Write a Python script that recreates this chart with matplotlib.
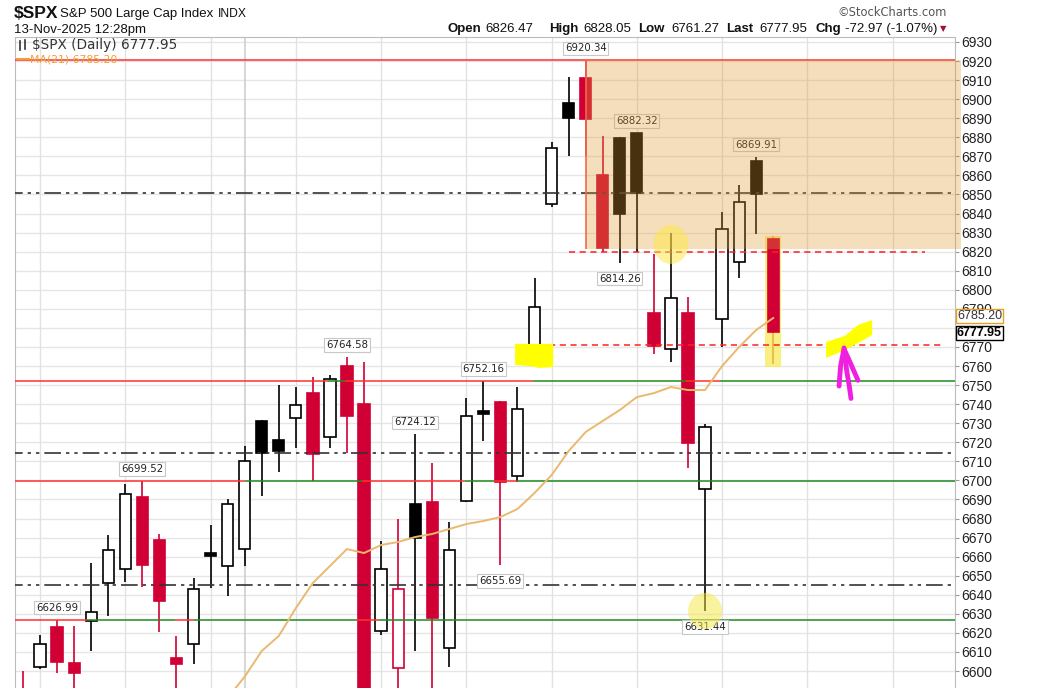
import numpy as np
import pandas as pd
import matplotlib
matplotlib.use("Agg")
import matplotlib.pyplot as plt
from matplotlib.patches import Rectangle, Ellipse, Polygon
from matplotlib.lines import Line2D

W, H = 1052, 688

# daily candles 12-Sep-2025 .. 13-Nov-2025
dates = pd.bdate_range("2025-09-12", "2025-11-13").strftime("%d-%b").tolist()
opens = [6590, 6602, 6623, 6604, 6626, 6646, 6653.4, 6691.5, 6668.7, 6607, 6614.2, 6661.5, 6655,
         6664, 6731, 6721.2, 6732.5, 6745.7, 6723, 6760, 6740, 6621, 6601.7, 6687.6, 6688.5, 6612,
         6689, 6736.5, 6741, 6702.5, 6771, 6845, 6897.8, 6911, 6860, 6879.5, 6882, 6788, 6769,
         6787.7, 6695.3, 6784.7, 6814.7, 6867.6, 6826.47]
highs = [6600, 6619, 6626.99, 6623.6, 6656.5, 6671.3, 6698, 6699.52, 6672, 6618.4, 6648.6, 6676.4, 6690,
         6718, 6731.5, 6750, 6749, 6754, 6755.3, 6764.58, 6762, 6668, 6679.7, 6724.12, 6709, 6678,
         6743.4, 6752.16, 6741.5, 6749, 6806.3, 6877.4, 6911.5, 6920.34, 6880.7, 6880, 6882.32, 6819,
         6829.6, 6796, 6729.6, 6841, 6855, 6869.91, 6828.05]
lows = [6575, 6601, 6599, 6560, 6610.7, 6629, 6646.5, 6644, 6620.6, 6569, 6603.5, 6643.7, 6639.5,
        6655, 6692, 6704.5, 6717, 6699.5, 6717, 6714.5, 6550, 6619, 6552, 6610.7, 6576, 6602,
        6688.5, 6720.8, 6655.69, 6699, 6770.5, 6843.6, 6870, 6870, 6820, 6814.26, 6819.7, 6766.3,
        6762.3, 6706.3, 6631.44, 6770, 6806, 6829.1, 6761.27]
closes = [6585, 6614, 6605, 6599, 6631, 6663.5, 6693, 6655.6, 6637, 6603.5, 6643, 6660.5, 6687.6,
          6710, 6714.5, 6715.5, 6739.5, 6714, 6753, 6734, 6552, 6653.5, 6643, 6670, 6627.6, 6663.5,
          6734, 6735, 6699, 6737.4, 6791, 6874.5, 6890, 6889.5, 6822, 6839.6, 6851, 6770.7, 6795.8,
          6719.5, 6728.2, 6831.7, 6846.2, 6850.3, 6777.95]
prev_close = 6587.0
ma21 = [np.nan] * 12 + [6586, 6597, 6610.5, 6618.4, 6633, 6646.2, 6655.1, 6664, 6661.9, 6666.1,
                        6667.7, 6670.3, 6671.9, 6674.5, 6677.1, 6678.7, 6680.8, 6685, 6693.4, 6702.8,
                        6715.4, 6725.4, 6731.2, 6736.9, 6743.7, 6745.8, 6749, 6747.4, 6747.4, 6760,
                        6770, 6778.9, 6785.2]

# labelled highs / lows
high_labels = [(2, 6626.99), (7, 6699.52), (19, 6764.58), (23, 6724.12), (27, 6752.16),
               (33, 6920.34), (36, 6882.32), (43, 6869.91)]
low_labels = [(28, 6655.69), (35, 6814.26), (40, 6631.44)]

yticks = list(range(6600, 6931, 10))

RED = "#D10034"
LRED = "#FF3030"
GREEN = "#1E8C1E"
SANS = "Liberation Sans"

fig = plt.figure(figsize=(W / 100, H / 100), dpi=100)
ax = fig.add_axes([15 / W, 0, 940 / W, 651 / H])
ax.set_xlim(-0.47, 54.66)
ax.set_ylim(6591.1, 6932.6)

n = len(dates)
x = np.arange(n)

# grid
for lv in range(6590, 6931, 10):
    ax.axhline(lv, color="#E6E6E6", lw=1, zorder=0)
days = pd.bdate_range("2025-09-12", periods=60)
for i, d in enumerate(days):
    if d.weekday() == 0:
        ax.axvline(i, color="#E2E2E2", lw=1, zorder=0)
    if d.day == 1:
        ax.axvline(i, color="#CFCFCF", lw=1.2, zorder=0)

# candles
prev = [prev_close] + closes[:-1]
for i in range(n):
    o, h, l, c = opens[i], highs[i], lows[i], closes[i]
    col = "black" if c >= prev[i] else RED
    hollow = c > o
    bot = min(o, c)
    hgt = max(abs(c - o), 1.2)
    ax.vlines(i, l, h, color=col, lw=1.2, zorder=3)
    ax.add_patch(Rectangle((i - 0.33, bot), 0.66, hgt, facecolor="white" if hollow else col,
                           edgecolor=col, lw=1.2, zorder=4))

# moving average
ax.plot(x, ma21, color="#E9B96E", lw=1.4, zorder=6)

# horizontal support/resistance lines (red before, green after)
ax.hlines(6920.34, -1, 56, color=LRED, lw=1.1, zorder=5)
segs = {
    6752.16: [(-1, 17.9, LRED), (17.9, 18.9, GREEN), (18.9, 29.9, LRED), (29.9, 38.9, GREEN),
              (38.9, 40.9, LRED), (40.9, 56, GREEN)],
    6699.52: [(-1, 13.0, LRED), (13.0, 19.9, GREEN), (19.9, 25.9, LRED), (25.9, 27.6, GREEN),
              (27.6, 29.0, LRED), (29.0, 56, GREEN)],
    6626.99: [(-1, 3.75, LRED), (3.75, 8.9, GREEN), (8.9, 10.0, LRED), (10.0, 19.6, GREEN),
              (19.6, 20.9, LRED), (20.9, 56, GREEN)],
}
for lv, parts in segs.items():
    for a, b, colr in parts:
        ax.hlines(lv, a, b, color=colr, lw=1.1, zorder=5)

for lv in [6851, 6714.5, 6645]:
    ax.hlines(lv, -1, 56, color="#333333", lw=1.2, zorder=5,
              linestyles=[(0, (10, 3, 2, 3, 2, 3))])

ax.hlines(6820, 32.0, 52.9, color="#FF2020", lw=1.1, zorder=5, linestyles=[(0, (4, 3))])
ax.hlines(6771, 29.0, 53.9, color="#FF2020", lw=1.1, zorder=5, linestyles=[(0, (4, 3))])

# high / low labels
lbl = dict(ha="center", va="center", fontsize=7.3, color="#222222", family="DejaVu Sans",
           textcoords="offset points", zorder=6.5,
           bbox=dict(boxstyle="square,pad=0.18", fc="white", ec="#C8C8C8", lw=0.8))
for i, v in high_labels:
    ax.annotate(f"{v:.2f}", xy=(i, v), xytext=(0, 12 * 0.72), **lbl)
for i, v in low_labels:
    ax.annotate(f"{v:.2f}", xy=(i, v), xytext=(0, -16 * 0.72), **lbl)

# highlighted zone
ax.add_patch(Rectangle((33, 6821.5), 22, 6920.34 - 6821.5, facecolor="#E29A2E", alpha=0.32,
                       lw=0, zorder=7, clip_on=False))
ax.vlines(33, 6821.5, 6920.34, color="#EE6A4A", lw=1.2, zorder=7)

# yellow markings
ax.add_patch(Rectangle((43.54, 6759.5), 0.92, 68.5, facecolor="#F6EC55", alpha=0.75, lw=0, zorder=3.5))
ax.add_patch(Ellipse((38, 6823.8), 2.05, 20.5, facecolor="#FFE640", alpha=0.5, lw=0, zorder=8))
ax.add_patch(Ellipse((40, 6631.5), 2.0, 19.0, facecolor="#F5E640", alpha=0.5, lw=0, zorder=8))
ax.add_patch(Polygon([(28.86, 6771.6), (31.09, 6771.6), (31.09, 6759.5), (30.3, 6759.0),
                      (29.7, 6760.0), (28.86, 6760.6)], facecolor="#FFFF00", lw=0, zorder=8))
ax.add_patch(Polygon([(47.1, 6772.6), (48.2, 6775.8), (48.97, 6781.5), (49.8, 6784.1), (49.8, 6776.3),
                      (49.1, 6772.6), (48.2, 6768.4), (47.1, 6764.2)], facecolor="#FFFF00", lw=0, zorder=8))
# hand drawn arrow
arr = dict(color="#F020E0", lw=3.5, solid_capstyle="round", solid_joinstyle="round", zorder=9)
ax.plot([48.15, 48.3, 48.45, 48.56], [6769.5, 6758, 6750, 6743], **arr)
ax.plot([48.15, 47.95, 47.86], [6769, 6760, 6749.5], **arr)
ax.plot([48.2, 48.6, 48.97], [6768, 6760, 6752.5], **arr)

# axes styling
for s in ["left", "right", "top"]:
    ax.spines[s].set_color("#BBBBBB")
ax.spines["bottom"].set_visible(False)
ax.set_xticks([])
ax.yaxis.tick_right()
ax.set_yticks(yticks)
# 6780 sits under the price tags, so it gets no label
ax.set_yticklabels(["" if v == 6780 else str(v) for v in yticks])
ax.tick_params(axis="y", length=3, pad=1.5, color="#999999", labelsize=10, labelcolor="#222222")
for t in ax.get_yticklabels():
    t.set_family(SANS)

# price tags on the axis
ytr = ax.get_yaxis_transform()
ax.text(1.002, 6786.2, "6785.20", transform=ytr, ha="left", va="center", fontsize=9, family=SANS,
        color="#333333", clip_on=False, zorder=10,
        bbox=dict(boxstyle="square,pad=0.06", fc="white", ec="#E8A020", lw=1))
ax.text(1.002, 6777.4, "6777.95", transform=ytr, ha="left", va="center", fontsize=9, family=SANS,
        weight="bold", color="black", clip_on=False, zorder=10,
        bbox=dict(boxstyle="square,pad=0.06", fc="white", ec="black", lw=1))


def T(px, py, s, **kw):
    kw.setdefault("family", SANS)
    kw.setdefault("va", "center")
    kw.setdefault("color", "#111111")
    fig.text(px / W, 1 - py / H, s, **kw)


T(14, 13, "$SPX", fontsize=12.5, weight="bold")
T(60, 14, "S&P 500 Large Cap Index", fontsize=9.5)
T(218, 14, "INDX", fontsize=8.7)
T(14, 30, "13-Nov-2025 12:28pm", fontsize=9.5)
T(947, 13, "©StockCharts.com", fontsize=8.3, ha="right", color="#555555", family="DejaVu Sans")
hdr = [(447, "Open", "bold"), (485, "6826.47", "normal"), (549, "High", "bold"),
       (583, "6828.05", "normal"), (638, "Low", "bold"), (671, "6761.27", "normal"),
       (726, "Last", "bold"), (759, "6777.95", "normal"), (815, "Chg", "bold"),
       (845, "-72.97 (-1.07%)", "normal")]
for px, s, wt in hdr:
    T(px, 29, s, fontsize=9.5, weight=wt)
T(943, 29, "▼", fontsize=6, ha="center", color="#A01030", family="DejaVu Sans")

T(32, 45, "$SPX (Daily) 6777.95", fontsize=9.8, color="#333333", family="DejaVu Sans")
T(30, 59, "MA(21) 6785.20", fontsize=7.8, color="#F0A030", family="DejaVu Sans")
fig.add_artist(Line2D([17 / W, 29 / W], [1 - 59 / H, 1 - 59 / H], color="#F0A030", lw=1.5))
# small chart icon
fig.add_artist(Line2D([20 / W, 20 / W], [1 - 41 / H, 1 - 50 / H], color="#333333", lw=1.2))
fig.add_artist(Line2D([25 / W, 25 / W], [1 - 40 / H, 1 - 49 / H], color="#333333", lw=1.2))

fig.savefig("out.png", dpi=100)
